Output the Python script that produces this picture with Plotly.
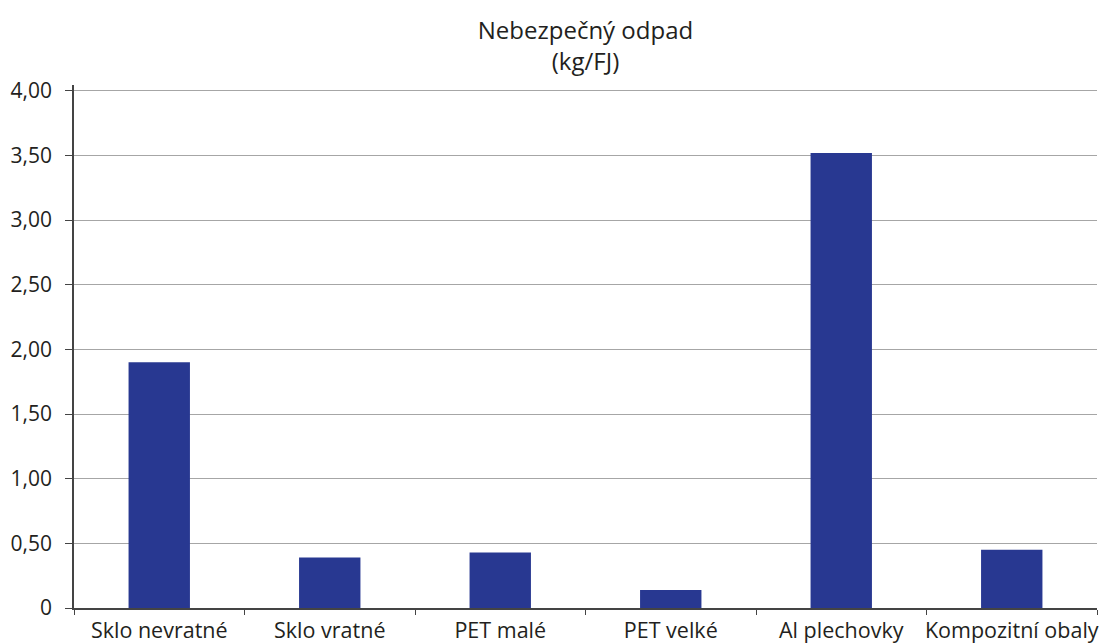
import plotly.graph_objects as go

categories = ["Sklo nevratné", "Sklo vratné", "PET malé", "PET velké", "Al plechovky", "Kompozitní obaly"]
values = [1.90, 0.39, 0.43, 0.14, 3.52, 0.45]
tick_vals = [0, 0.5, 1.0, 1.5, 2.0, 2.5, 3.0, 3.5, 4.0]
tick_text = ["0", "0,50", "1,00", "1,50", "2,00", "2,50", "3,00", "3,50", "4,00"]

fig = go.Figure(go.Bar(x=categories, y=values, marker=dict(color="#283891", line=dict(width=0)), width=0.36))

fig.update_layout(
    width=1102, height=643,
    margin=dict(l=74, r=5, t=85, b=35),
    paper_bgcolor="white", plot_bgcolor="white",
    font=dict(family="Open Sans", size=20, color="#231F20"),
    title=dict(text="Nebezpečný odpad<br>(kg/FJ)", x=0.5, xref="paper", xanchor="center",
               y=1 - 38.5 / 643, yref="container", yanchor="middle", font=dict(size=24)),
    showlegend=False,
    bargap=0.64,
)
fig.update_xaxes(showline=True, linecolor="#444444", linewidth=1.5, ticks="outside",
                 tickson="boundaries", ticklen=5, tickcolor="#444444", showgrid=False,
                 range=[-0.5, 5.5], tickangle=0, automargin=False,
                 tickfont=dict(size=21.5), ticklabelstandoff=2)
fig.update_yaxes(range=[0, 4.045], tickvals=tick_vals, ticktext=tick_text, showline=True,
                 linecolor="#444444", linewidth=1.5, ticks="outside", ticklen=7,
                 tickcolor="#444444", showgrid=True, gridcolor="#a6a6a6", gridwidth=1,
                 zeroline=False, ticklabelstandoff=9, automargin=False,
                 tickfont=dict(size=21))

fig.write_html("out.html", config={"displayModeBar": False},
               post_script="document.body.style.margin='0';document.body.style.overflow='hidden';")
